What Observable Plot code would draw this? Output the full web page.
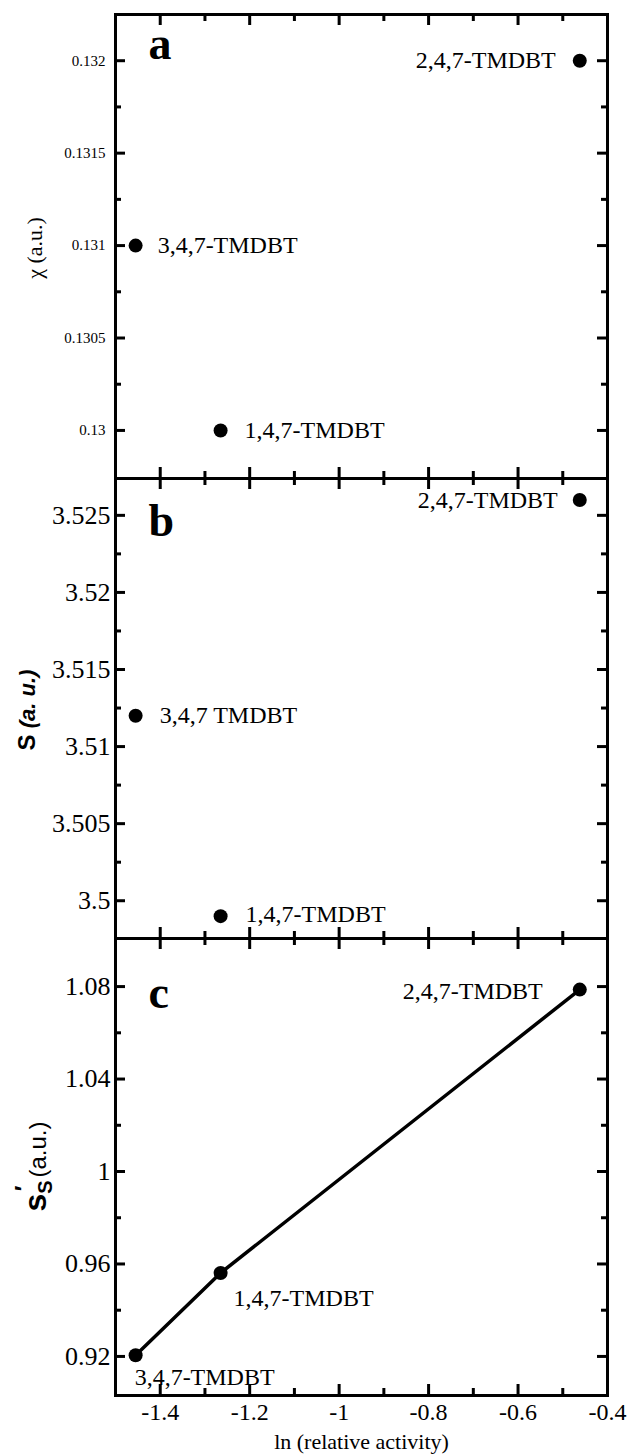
<!DOCTYPE html>
<html><head><meta charset="utf-8">
<script src="https://cdn.jsdelivr.net/npm/d3@7"></script>
<script src="https://cdn.jsdelivr.net/npm/@observablehq/plot@0.6"></script>
<style>
body{margin:0;background:#fff;}
#wrap{position:relative;width:630px;height:1454px;background:#fff;}
#wrap svg{position:absolute;left:0;}
</style></head><body><div id="wrap"></div>
<script>
// ---- data ----
const compounds = ["2,4,7-TMDBT", "3,4,7-TMDBT", "1,4,7-TMDBT"];
const labelsB = ["2,4,7-TMDBT", "3,4,7 TMDBT", "1,4,7-TMDBT"];
const lnActivity = [-0.462, -1.455, -1.265];
const chi = [0.132, 0.131, 0.130];
const sValues = [3.526, 3.512, 3.499];
const sPrime = [1.0787, 0.9205, 0.9561];

const xTicksMajor = [-1.4, -1.2, -1, -0.8, -0.6, -0.4];
const xTicksMinor = [-1.3, -1.1, -0.9, -0.7, -0.5];
const aTicksMajor = [0.13, 0.1305, 0.131, 0.1315, 0.132];
const aTicksMinor = [0.13025, 0.13075, 0.13125, 0.13175];
const bTicksMajor = [3.5, 3.505, 3.51, 3.515, 3.52, 3.525];
const bTicksMinor = [3.5025, 3.5075, 3.5125, 3.5175, 3.5225];
const cTicksMajor = [0.92, 0.96, 1.0, 1.04, 1.08];
const cTicksMinor = [0.94, 0.98, 1.02, 1.06];

// ---- layout ----
const W = 630, ML = 115, MR = 23;
const IW = W - ML - MR;
const serif = "'Liberation Serif', 'Times New Roman', serif";
const sans = "'Liberation Sans', Arial, sans-serif";
const wrap = document.getElementById("wrap");

function panel(cfg) {
  const ih = cfg.frameBottom - cfg.frameTop;
  const height = cfg.mt + ih + cfg.mb;
  const data = compounds.map((c, i) => ({name: cfg.labels[i], x: lnActivity[i], y: cfg.values[i]}));
  const tickStyle = {stroke: "black", strokeWidth: 3};
  const marks = [
    Plot.ruleY(cfg.yMajor, {y: d => d, insetRight: IW - 10, ...tickStyle}),
    Plot.ruleY(cfg.yMinor, {y: d => d, insetRight: IW - 6, ...tickStyle}),
    Plot.ruleY(cfg.yMajor, {y: d => d, insetLeft: IW - 10, ...tickStyle}),
    Plot.ruleY(cfg.yMinor, {y: d => d, insetLeft: IW - 6, ...tickStyle}),
    Plot.ruleX(xTicksMajor, {x: d => d, insetBottom: ih - 11, ...tickStyle}),
    Plot.ruleX(xTicksMinor, {x: d => d, insetBottom: ih - 7, ...tickStyle}),
    Plot.ruleX(xTicksMajor, {x: d => d, insetTop: ih - 11, ...tickStyle}),
    Plot.ruleX(xTicksMinor, {x: d => d, insetTop: ih - 7, ...tickStyle}),
    Plot.axisY({ticks: cfg.yMajor, tickSize: 0, tickPadding: cfg.yPad, tickFormat: d => String(d),
      fontSize: cfg.yFont, fontFamily: serif, label: null}),
    Plot.frame({stroke: "black", strokeWidth: 3}),
    Plot.text([cfg.letter], {frameAnchor: "top-left", dx: 33, dy: cfg.letterDy, lineAnchor: "middle",
      fontSize: 46, fontWeight: "bold", fontFamily: serif, fill: "black"})
  ];
  if (cfg.line) {
    marks.push(Plot.line([...data].sort((a, b) => a.x - b.x), {x: "x", y: "y", stroke: "black", strokeWidth: 3.5}));
  }
  marks.push(Plot.dot(data, {x: "x", y: "y", r: 7, fill: "black"}));
  data.forEach((d, i) => {
    const p = cfg.labelPos[i];
    marks.push(Plot.text([d], {x: "x", y: "y", text: "name", dx: p[0], dy: p[1], textAnchor: p[2],
      fontSize: 24, fontFamily: serif, fill: "black"}));
  });
  if (cfg.showX) {
    marks.push(Plot.axisX({ticks: xTicksMajor, tickSize: 0, tickPadding: 7, tickFormat: d => String(d),
      fontSize: 24, fontFamily: serif, label: null}));
    marks.push(Plot.text(["ln (relative activity)"], {frameAnchor: "bottom", dy: 46, lineAnchor: "middle",
      fontSize: 22, fontFamily: serif, fill: "black"}));
  }
  const svg = Plot.plot({
    width: W, height,
    marginLeft: ML, marginRight: MR, marginTop: cfg.mt, marginBottom: cfg.mb,
    x: {domain: [-1.5, -0.4], axis: null},
    y: {domain: cfg.yDomain, axis: null},
    style: {background: "transparent", overflow: "visible", fontFamily: serif, color: "black"},
    marks
  });
  svg.style.top = (cfg.frameTop - cfg.mt) + "px";
  wrap.appendChild(svg);
  cfg.yLabel(d3.select(svg), (cfg.frameTop + cfg.frameBottom) / 2 - (cfg.frameTop - cfg.mt));
  return svg;
}

// panel a
panel({
  frameTop: 14, frameBottom: 478, mt: 14, mb: 10,
  yDomain: [0.12974, 0.13225], yMajor: aTicksMajor, yMinor: aTicksMinor, yFont: 15, yPad: 10,
  values: chi, labels: compounds, letter: "a", letterDy: 30,
  labelPos: [[-24, 0, "end"], [22, 0, "start"], [24, 0, "start"]],
  yLabel: (s, cy) => s.append("text").attr("transform", `translate(42,${cy + 2}) rotate(-90)`)
    .attr("text-anchor", "middle").attr("font-family", serif).attr("font-size", 22).text("χ (a.u.)")
});

// panel b
panel({
  frameTop: 478, frameBottom: 938, mt: 10, mb: 10,
  yDomain: [3.49755, 3.52739], yMajor: bTicksMajor, yMinor: bTicksMinor, yFont: 26, yPad: 5,
  values: sValues, labels: labelsB, letter: "b", letterDy: 43,
  labelPos: [[-22, 0, "end"], [24, 0, "start"], [25, -2, "start"]],
  yLabel: (s, cy) => {
    const t = s.append("text").attr("transform", `translate(35,${cy + 2}) rotate(-90)`)
      .attr("text-anchor", "middle").attr("font-family", sans).attr("font-size", 24).attr("font-weight", "bold");
    t.append("tspan").text("S");
    t.append("tspan").attr("font-style", "italic").attr("font-size", 22).text(" (a. u.)");
  }
});

// panel c
panel({
  frameTop: 938, frameBottom: 1395, mt: 10, mb: 59,
  yDomain: [0.9031, 1.1008], yMajor: cTicksMajor, yMinor: cTicksMinor, yFont: 26, yPad: 5,
  values: sPrime, labels: compounds, letter: "c", letterDy: 55, line: true, showX: true,
  labelPos: [[-37, 2, "end"], [-1, 22, "start"], [13, 25, "start"]],
  yLabel: (s, cy) => {
    const t = s.append("text").attr("transform", `translate(46,${cy}) rotate(-90)`)
      .attr("text-anchor", "middle").attr("font-family", sans).attr("font-size", 24);
    t.append("tspan").attr("font-weight", "bold").attr("font-size", 32).text("s");
    t.append("tspan").attr("font-weight", "bold").attr("font-size", 20).attr("dy", 6).text("S");
    t.append("tspan").attr("font-weight", "bold").attr("font-size", 24).attr("dx", -11).attr("dy", -20).text("′");
    t.append("tspan").attr("dx", 8).attr("dy", 14).text("(a.u.)");
  }
});
</script></body></html>
